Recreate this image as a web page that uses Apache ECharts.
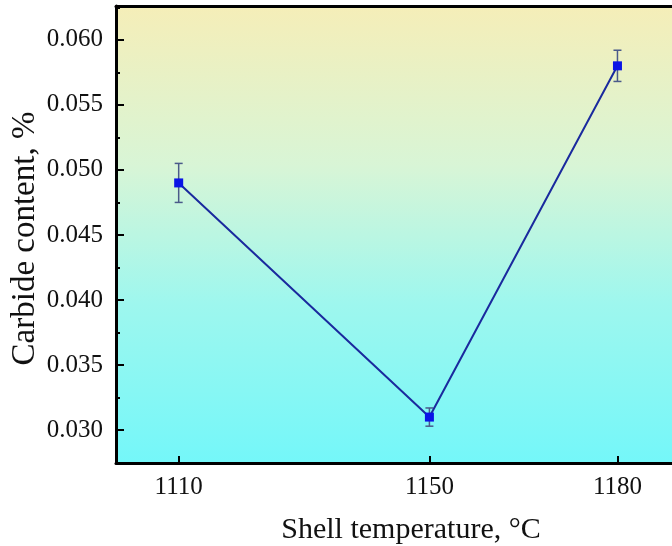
<!DOCTYPE html>
<html>
<head>
<meta charset="utf-8">
<script src="https://cdn.jsdelivr.net/npm/echarts@6/dist/echarts.min.js"></script>
<style>html,body{margin:0;padding:0;background:#fff;}#c{width:672px;height:546px;}</style>
</head>
<body>
<div id="c"></div>
<script>
const temperatures = [1110, 1150, 1180];
const carbide = [0.049, 0.031, 0.058];
const errors = [0.0015, 0.0007, 0.0012];
const yTicks = [0.030, 0.035, 0.040, 0.045, 0.050, 0.055, 0.060];
const yMinorTicks = [0.0275, 0.0325, 0.0375, 0.0425, 0.0475, 0.0525, 0.0575, 0.0625];
const xTicks = [1110, 1150, 1180];

const chart = echarts.init(document.getElementById('c'), null, {renderer: 'canvas'});
const font = '"Liberation Serif", "Times New Roman", serif';
const Y_MIN = 0.02747, Y_MAX = 0.0626, X_MIN = 1100, X_MAX = 1188.7;

chart.setOption({
  animation: false,
  backgroundColor: '#ffffff',
  grid: {
    left: 116, top: 6, bottom: 83, right: 0,
    containLabel: false, outerBoundsMode: 'none',
    show: true, borderWidth: 0,
    backgroundColor: new echarts.graphic.LinearGradient(0, 0, 0, 1, [
      {offset: 0, color: '#f5eeb8'},
      {offset: 0.35, color: '#d8f5d6'},
      {offset: 0.65, color: '#9ef7ee'},
      {offset: 1, color: '#74f7f9'}
    ])
  },
  xAxis: [{
    type: 'value', min: X_MIN, max: X_MAX, position: 'bottom',
    name: 'Shell temperature, °C', nameLocation: 'middle', nameGap: 52,
    nameMoveOverlap: false,
    nameTextStyle: {fontFamily: font, fontSize: 30, color: '#111', padding: [0, 0, 0, 34]},
    axisLine: {show: true, lineStyle: {color: '#000', width: 3}},
    axisTick: {show: true, inside: true, length: 7, lineStyle: {color: '#000', width: 2}, customValues: xTicks},
    axisLabel: {fontFamily: font, fontSize: 25, color: '#111', margin: 12, customValues: xTicks,
      formatter: v => String(v)},
    splitLine: {show: false}
  }, {
    type: 'value', min: X_MIN, max: X_MAX, position: 'top',
    axisLine: {show: true, lineStyle: {color: '#000', width: 3}},
    axisTick: {show: false}, axisLabel: {show: false}, splitLine: {show: false}
  }],
  yAxis: [{
    type: 'value', min: Y_MIN, max: Y_MAX,
    name: 'Carbide content, %', nameLocation: 'middle', nameGap: 74,
    nameMoveOverlap: false,
    nameTextStyle: {fontFamily: font, fontSize: 33, color: '#111', padding: [0, 8, 0, 0]},
    axisLine: {show: true, lineStyle: {color: '#000', width: 3}},
    axisTick: {show: true, inside: true, length: 8, lineStyle: {color: '#000', width: 2}, customValues: yTicks},
    axisLabel: {fontFamily: font, fontSize: 25, color: '#111', margin: 13, customValues: yTicks,
      formatter: v => v.toFixed(3)},
    splitLine: {show: false}
  }, {
    type: 'value', min: Y_MIN, max: Y_MAX, position: 'left',
    axisLine: {show: false},
    axisTick: {show: true, inside: true, length: 4, lineStyle: {color: '#000', width: 2}, customValues: yMinorTicks},
    axisLabel: {show: false}, splitLine: {show: false}
  }],
  series: [{
    type: 'line',
    data: temperatures.map((t, i) => [t, carbide[i]]),
    symbol: 'rect', symbolSize: 9,
    lineStyle: {color: '#1a2a9e', width: 2},
    itemStyle: {color: '#0a14e6'},
    z: 3
  }, {
    type: 'custom',
    data: temperatures.map((t, i) => [t, carbide[i] - errors[i], carbide[i] + errors[i]]),
    renderItem: function (params, api) {
      const lo = api.coord([api.value(0), api.value(1)]);
      const hi = api.coord([api.value(0), api.value(2)]);
      const w = 4;
      const st = {stroke: '#4a5a8a', lineWidth: 1.5};
      return {type: 'group', children: [
        {type: 'line', shape: {x1: lo[0], y1: lo[1], x2: hi[0], y2: hi[1]}, style: st},
        {type: 'line', shape: {x1: lo[0] - w, y1: lo[1], x2: lo[0] + w, y2: lo[1]}, style: st},
        {type: 'line', shape: {x1: hi[0] - w, y1: hi[1], x2: hi[0] + w, y2: hi[1]}, style: st}
      ]};
    },
    z: 2
  }]
});
</script>
</body>
</html>
